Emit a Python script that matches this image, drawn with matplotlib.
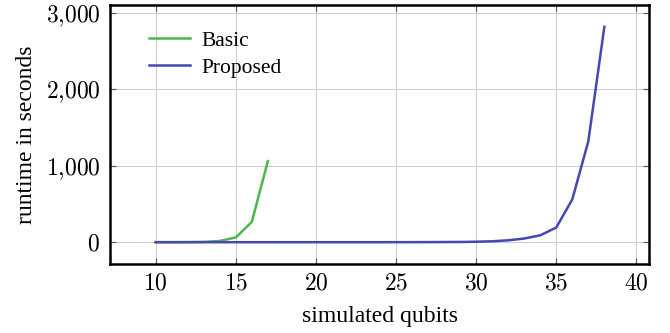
"""Runtime vs. simulated qubits: basic vs. proposed simulator (pgfplots look)."""
import matplotlib
matplotlib.use("Agg")
import matplotlib.pyplot as plt
from matplotlib.ticker import FuncFormatter

qubits_basic = [10, 11, 12, 13, 14, 15, 16, 17]
runtime_basic = [0.1, 0.3, 1, 4, 16, 62, 265, 1060]

qubits_proposed = list(range(10, 39))
runtime_proposed = [0, 0, 0, 0, 0, 0, 0, 0, 0, 0, 0, 0, 0, 0, 0, 0.2, 0.5, 1,
                    2, 3, 6, 12, 25, 48, 90, 192, 560, 1320, 2815]

x_ticks = [10, 15, 20, 25, 30, 35, 40]
y_ticks = [0, 1000, 2000, 3000]

green = "#4cb74c"
blue = "#4747b3"

plt.rcParams["font.family"] = ["Liberation Serif", "DejaVu Serif"]
plt.rcParams["mathtext.fontset"] = "cm"

fig = plt.figure(figsize=(6.7, 3.33), dpi=100)
ax = fig.add_axes([0.1642, 0.2072, 0.8048, 0.7778])

ax.plot(qubits_basic, runtime_basic, color=green, lw=1.8, label="Basic")
ax.plot(qubits_proposed, runtime_proposed, color=blue, lw=1.8, label="Proposed")

ax.set_xlim(7.15, 40.8)
ax.set_ylim(-285, 3100)
ax.set_xticks(x_ticks)
ax.set_yticks(y_ticks)
ax.xaxis.set_major_formatter(FuncFormatter(lambda v, _: rf"${int(v)}$"))
ax.yaxis.set_major_formatter(
    FuncFormatter(lambda v, _: "$" + f"{int(v):,}".replace(",", "{,}") + "$"))

ax.grid(True, color="#cccccc", lw=0.8)
ax.set_axisbelow(True)
ax.tick_params(direction="in", top=True, right=True, length=4, width=0.8,
               color="#555555", labelsize=17, pad=7)
for s in ax.spines.values():
    s.set_linewidth(1.8)

ax.set_xlabel("simulated qubits", fontsize=17, labelpad=8)
ax.set_ylabel("runtime in seconds", fontsize=17, labelpad=6)

ax.legend(loc="upper left", frameon=False, fontsize=15.5, handlelength=1.9,
          handletextpad=0.5, labelspacing=0.3, borderaxespad=0,
          bbox_to_anchor=(0.057, 0.933))

fig.savefig("out.png", dpi=100)
